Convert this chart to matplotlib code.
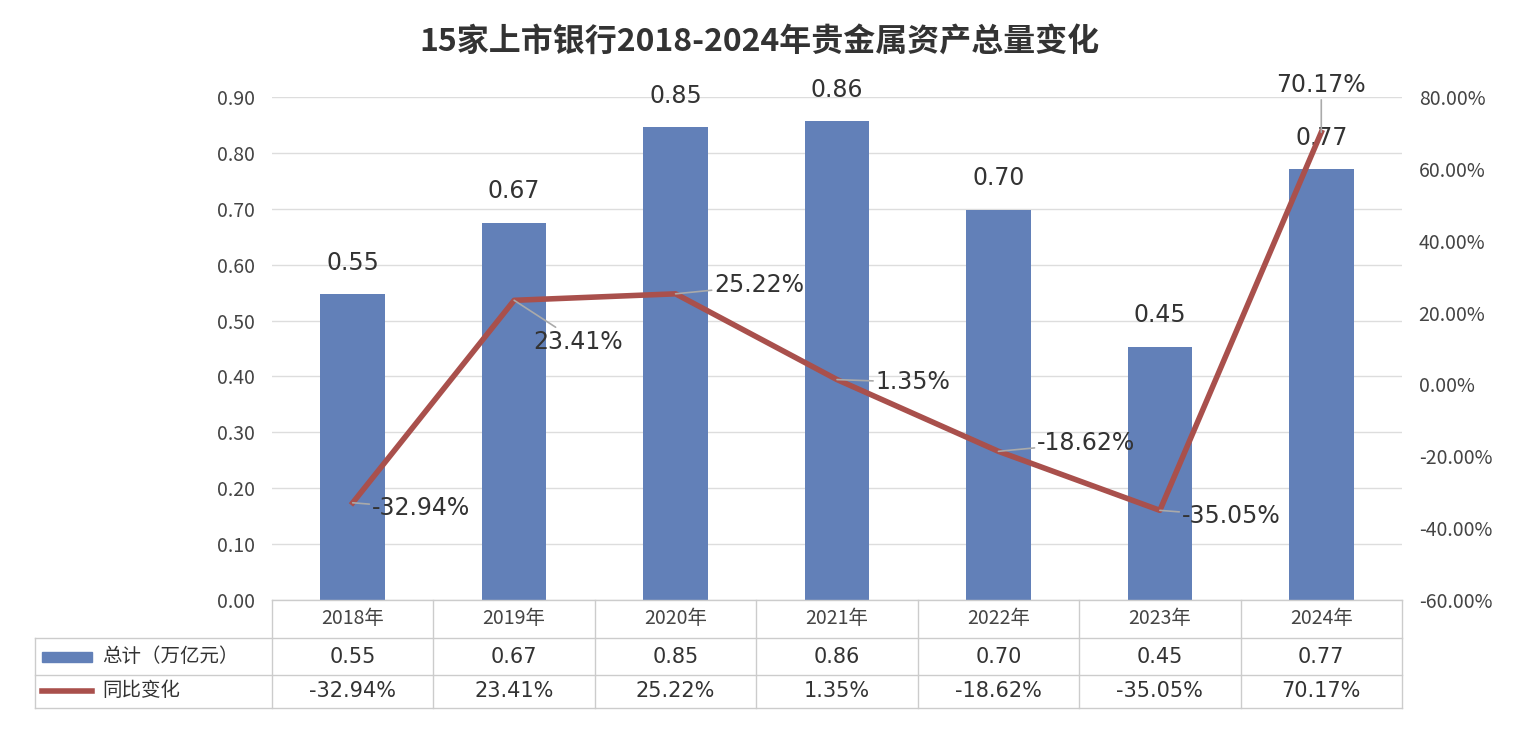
import matplotlib
matplotlib.use("Agg")
import matplotlib.pyplot as plt
from matplotlib.lines import Line2D

plt.rcParams["font.family"] = ["Noto Sans CJK SC"]

categories = ["2018年", "2019年", "2020年", "2021年", "2022年", "2023年", "2024年"]
totals = [0.547, 0.675, 0.846, 0.857, 0.698, 0.453, 0.771]
total_labels = ["0.55", "0.67", "0.85", "0.86", "0.70", "0.45", "0.77"]
yoy = [-32.94, 23.41, 25.22, 1.35, -18.62, -35.05, 70.17]
yoy_labels = ["-32.94%", "23.41%", "25.22%", "1.35%", "-18.62%", "-35.05%", "70.17%"]
series_names = ["总计（万亿元）", "同比变化"]

W, H = 1519, 729
fig = plt.figure(figsize=(W / 100, H / 100), dpi=100)
L, R, T, B = 272, 1402, 97, 600
ax = fig.add_axes([L / W, 1 - B / H, (R - L) / W, (B - T) / H])
ax2 = ax.twinx()

bar_c = "#6280b8"
line_c = "#a9504c"
x = range(len(categories))
ax.bar(x, totals, width=0.4, color=bar_c, zorder=2)
ax.set_xlim(-0.5, 6.5)
ax.set_ylim(0, 0.9)
ax.set_yticks([i / 10 for i in range(10)])
ax.set_yticklabels([f"{i/10:.2f}" for i in range(10)])
ax.grid(axis="y", color="#dddddd", lw=1, zorder=0)
ax.set_xticks([])
for a in (ax, ax2):
    for s in a.spines.values():
        s.set_visible(False)
    a.tick_params(length=0, labelsize=14, colors="#444444", pad=12)
for i, (v, lab) in enumerate(zip(totals, total_labels)):
    ax.annotate(lab, (i, v), xytext=(0, 14), textcoords="offset points",
                ha="center", va="bottom", fontsize=17, color="#333333", family="DejaVu Sans")

ax2.plot(list(x), yoy, color=line_c, lw=4, zorder=3)
ax2.set_ylim(-60, 80)
ax2.set_yticks(range(-60, 81, 20))
ax2.set_yticklabels([f"{v:.2f}%" for v in range(-60, 81, 20)])
offs = [(14, -4), (14, -30), (28, 6), (28, -2), (28, 6), (16, -4), (0, 34)]
for i, (v, lab) in enumerate(zip(yoy, yoy_labels)):
    dx, dy = offs[i]
    ax2.annotate(lab, (i, v), xytext=(dx, dy), textcoords="offset points",
                 ha="left" if dx else "center", va="center", fontsize=17, color="#333333",
                 family="DejaVu Sans",
                 arrowprops=dict(arrowstyle="-", color="#aaaaaa", lw=1.2, shrinkA=0, shrinkB=0))

# table
fx = lambda px: px / W
fy = lambda py: 1 - py / H
col_w = (R - L) / 7
gc = "#cccccc"
rows = [600, 638, 675, 708]
fig.add_artist(Line2D([fx(35), fx(R)], [fy(638)] * 2, color=gc, lw=1))
fig.add_artist(Line2D([fx(35), fx(R)], [fy(675)] * 2, color=gc, lw=1))
fig.add_artist(Line2D([fx(35), fx(R)], [fy(708)] * 2, color=gc, lw=1))
fig.add_artist(Line2D([fx(L), fx(R)], [fy(600)] * 2, color=gc, lw=1))
fig.add_artist(Line2D([fx(35)] * 2, [fy(638), fy(708)], color=gc, lw=1))
for k in range(8):
    fig.add_artist(Line2D([fx(L + k * col_w)] * 2, [fy(600), fy(708)], color=gc, lw=1))
for i, c in enumerate(categories):
    cx = fx(L + (i + 0.5) * col_w)
    fig.text(cx, fy(619), c, ha="center", va="center", fontsize=14, color="#444444")
    fig.text(cx, fy(657), total_labels[i], ha="center", va="center", fontsize=15, color="#333333", family="DejaVu Sans")
    fig.text(cx, fy(691), yoy_labels[i], ha="center", va="center", fontsize=15, color="#333333", family="DejaVu Sans")
fig.add_artist(plt.Rectangle((fx(42), fy(662)), fx(50), 10 / H, color=bar_c))
fig.add_artist(Line2D([fx(42), fx(92)], [fy(691)] * 2, color=line_c, lw=4))
fig.text(fx(102), fy(657), series_names[0], va="center", fontsize=14, color="#333333")
fig.text(fx(102), fy(691), series_names[1], va="center", fontsize=14, color="#333333")

fig.text(0.5, fy(42), "15家上市银行2018-2024年贵金属资产总量变化", ha="center", va="center",
         fontsize=23, fontweight="bold", color="#333333")
fig.savefig("out.png", dpi=100, facecolor="white")
